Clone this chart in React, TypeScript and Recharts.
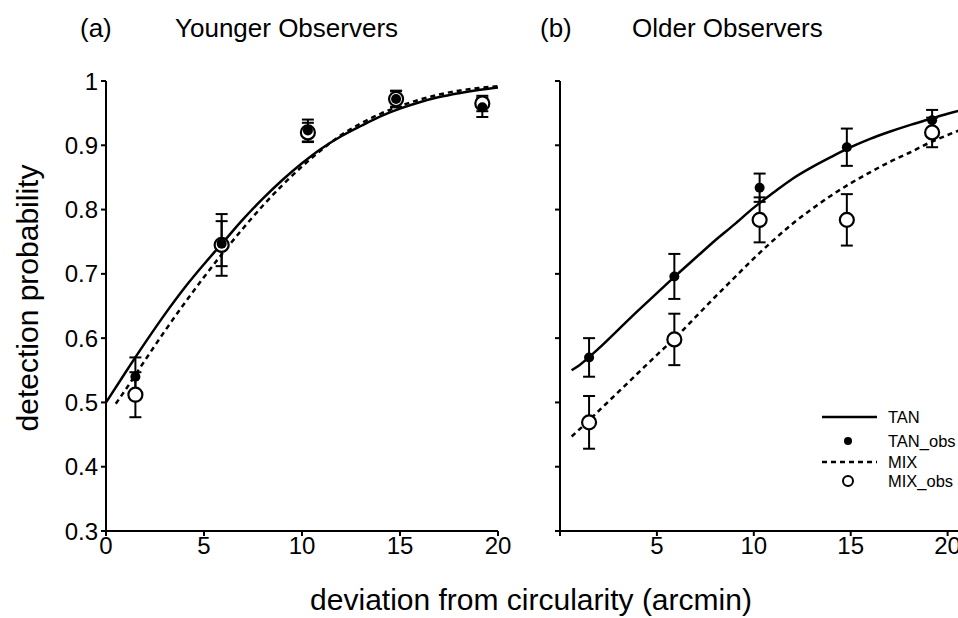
import React from 'react';
import { ComposedChart, Line, Scatter, ErrorBar, XAxis, YAxis } from 'recharts';

// observation positions (arcmin)
const OBS_X = [1.5, 5.9, 10.3, 14.8, 19.2];

// (a) younger observers
const YOUNG_TAN_OBS = [0.54, 0.747, 0.923, 0.972, 0.959];
const YOUNG_TAN_ERR = [0.03, 0.035, 0.017, 0.013, 0.015];
const YOUNG_MIX_OBS = [0.512, 0.745, 0.92, 0.972, 0.965];
const YOUNG_MIX_ERR = [0.035, 0.048, 0.015, 0.012, 0.012];

const YOUNG_TAN_FIT_X = [0, 1, 2, 3, 4, 5, 6, 7, 8, 9, 10, 11, 12, 13, 14, 15, 16, 17, 18, 19, 20];
const YOUNG_TAN_FIT_Y = [0.5, 0.547, 0.593, 0.637, 0.678, 0.715, 0.75, 0.785, 0.817, 0.846, 0.872, 0.895, 0.914, 0.93, 0.945, 0.957, 0.967, 0.975, 0.981, 0.986, 0.99];
const YOUNG_MIX_FIT_X = [0.5, 1, 2, 3, 4, 5, 6, 7, 8, 9, 10, 11, 12, 13, 14, 15, 16, 17, 18, 19, 20];
const YOUNG_MIX_FIT_Y = [0.498, 0.52, 0.566, 0.611, 0.654, 0.695, 0.734, 0.771, 0.806, 0.838, 0.867, 0.893, 0.916, 0.934, 0.949, 0.961, 0.971, 0.979, 0.985, 0.989, 0.992];

// (b) older observers
const OLD_TAN_OBS = [0.57, 0.696, 0.834, 0.897, 0.939];
const OLD_TAN_ERR = [0.03, 0.035, 0.022, 0.029, 0.016];
const OLD_MIX_OBS = [0.469, 0.598, 0.784, 0.784, 0.92];
const OLD_MIX_ERR = [0.041, 0.04, 0.035, 0.04, 0.023];

const OLD_FIT_X = [0.6, 1, 2, 3, 4, 5, 6, 7, 8, 9, 10, 11, 12, 13, 14, 15, 16, 17, 18, 19, 20, 21];
const OLD_TAN_FIT_Y = [0.55, 0.558, 0.584, 0.613, 0.642, 0.67, 0.698, 0.725, 0.752, 0.777, 0.803, 0.826, 0.848, 0.866, 0.882, 0.897, 0.91, 0.921, 0.931, 0.94, 0.949, 0.957];
const OLD_MIX_FIT_Y = [0.447, 0.458, 0.487, 0.516, 0.545, 0.574, 0.602, 0.633, 0.664, 0.694, 0.724, 0.752, 0.778, 0.801, 0.822, 0.841, 0.858, 0.874, 0.888, 0.903, 0.916, 0.928];

const Y_TICKS = [0.3, 0.4, 0.5, 0.6, 0.7, 0.8, 0.9, 1];
const X_TICKS = [0, 5, 10, 15, 20];

const FONT = '"Liberation Sans", Arial, sans-serif';

const pts = (xs: number[], ys: number[], errs?: number[]) =>
  xs.map((x, i) => ({ x, y: ys[i], err: errs ? errs[i] : 0 }));

const FilledDot = (props: any) => <circle cx={props.cx} cy={props.cy} r={5} fill="#000" />;
const OpenDot = (props: any) => (
  <circle cx={props.cx} cy={props.cy} r={7} fill="#fff" stroke="#000" strokeWidth={2.2} />
);

const tickStyle = { fontSize: 24, fill: '#000', fontFamily: FONT };
const yFmt = (v: number) => (v === 1 ? '1' : v.toFixed(1));

type PanelProps = {
  width: number;
  xMax: number;
  marginRight: number;
  yWidth: number;
  showYLabels: boolean;
  showZero: boolean;
  tanFit: { x: number; y: number }[];
  mixFit: { x: number; y: number }[];
  tanObs: { x: number; y: number; err: number }[];
  mixObs: { x: number; y: number; err: number }[];
};

const Panel = (p: PanelProps) => (
  <ComposedChart
    width={p.width}
    height={618}
    margin={{ top: 81, right: p.marginRight, left: 0, bottom: 57 }}
  >
    <XAxis
      type="number"
      dataKey="x"
      domain={[0, p.xMax]}
      ticks={X_TICKS}
      allowDataOverflow
      stroke="#000"
      strokeWidth={2}
      tick={tickStyle}
      tickSize={5}
      tickMargin={1}
      height={30}
      tickFormatter={(v: number) => (v === 0 && !p.showZero ? '' : String(v))}
    />
    <YAxis
      type="number"
      domain={[0.3, 1]}
      ticks={Y_TICKS}
      width={p.yWidth}
      stroke="#000"
      strokeWidth={2}
      tick={tickStyle}
      tickSize={5}
      tickMargin={3}
      tickFormatter={(v: number) => (p.showYLabels ? yFmt(v) : '')}
    />
    <Line data={p.tanFit} dataKey="y" type="monotone" stroke="#000" strokeWidth={2.5} dot={false} activeDot={false} isAnimationActive={false} />
    <Line data={p.mixFit} dataKey="y" type="monotone" stroke="#000" strokeWidth={2.5} strokeDasharray="5 4" dot={false} activeDot={false} isAnimationActive={false} />
    <Scatter data={p.mixObs} dataKey="y" shape={OpenDot} isAnimationActive={false}>
      <ErrorBar dataKey="err" direction="y" width={6} stroke="#000" strokeWidth={2} />
    </Scatter>
    <Scatter data={p.tanObs} dataKey="y" shape={FilledDot} isAnimationActive={false}>
      <ErrorBar dataKey="err" direction="y" width={6} stroke="#000" strokeWidth={2} />
    </Scatter>
  </ComposedChart>
);

const textStyle: React.CSSProperties = {
  position: 'absolute',
  fontFamily: FONT,
  color: '#000',
  whiteSpace: 'nowrap',
  lineHeight: 1,
};

export default function App() {
  return (
    <div style={{ position: 'fixed', left: 0, top: 0, width: 958, height: 618, overflow: 'hidden', background: '#fff' }}>
      <div style={{ position: 'absolute', left: 0, top: 0 }}>
        <Panel
          width={520}
          xMax={20}
          marginRight={22}
          yWidth={106}
          showYLabels
          showZero
          tanFit={pts(YOUNG_TAN_FIT_X, YOUNG_TAN_FIT_Y)}
          mixFit={pts(YOUNG_MIX_FIT_X, YOUNG_MIX_FIT_Y)}
          tanObs={pts(OBS_X, YOUNG_TAN_OBS, YOUNG_TAN_ERR)}
          mixObs={pts(OBS_X, YOUNG_MIX_OBS, YOUNG_MIX_ERR)}
        />
      </div>
      <div style={{ position: 'absolute', left: 460, top: 0 }}>
        <Panel
          width={520}
          xMax={21}
          marginRight={13}
          yWidth={100}
          showYLabels={false}
          showZero={false}
          tanFit={pts(OLD_FIT_X, OLD_TAN_FIT_Y)}
          mixFit={pts(OLD_FIT_X, OLD_MIX_FIT_Y)}
          tanObs={pts(OBS_X, OLD_TAN_OBS, OLD_TAN_ERR)}
          mixObs={pts(OBS_X, OLD_MIX_OBS, OLD_MIX_ERR)}
        />
      </div>

      {/* panel titles */}
      <div style={{ ...textStyle, left: 80, top: 15, fontSize: 26 }}>(a)</div>
      <div style={{ ...textStyle, left: 175, top: 15, fontSize: 26 }}>Younger Observers</div>
      <div style={{ ...textStyle, left: 540, top: 15, fontSize: 26 }}>(b)</div>
      <div style={{ ...textStyle, left: 632, top: 15, fontSize: 26 }}>Older Observers</div>

      {/* axis titles */}
      <div
        style={{
          ...textStyle,
          left: 28,
          top: 298,
          fontSize: 30,
          transform: 'translate(-50%, -50%) rotate(-90deg)',
        }}
      >
        detection probability
      </div>
      <div style={{ ...textStyle, left: 531, top: 600, fontSize: 30, transform: 'translate(-50%, -50%)' }}>
        deviation from circularity (arcmin)
      </div>

      {/* legend */}
      <svg style={{ position: 'absolute', left: 800, top: 400 }} width={158} height={100}>
        <line x1={22} y1={17} x2={77} y2={17} stroke="#000" strokeWidth={2.5} />
        <circle cx={48} cy={41} r={4} fill="#000" />
        <line x1={22} y1={62} x2={77} y2={62} stroke="#000" strokeWidth={2.5} strokeDasharray="5 4" />
        <circle cx={48} cy={81} r={5} fill="#fff" stroke="#000" strokeWidth={2} />
        {['TAN', 'TAN_obs', 'MIX', 'MIX_obs'].map((t, i) => (
          <text key={t} x={88} y={[17, 41, 62, 81][i]} dy="0.35em" fontSize={16.5} fontFamily={FONT} fill="#000">
            {t}
          </text>
        ))}
      </svg>
    </div>
  );
}
